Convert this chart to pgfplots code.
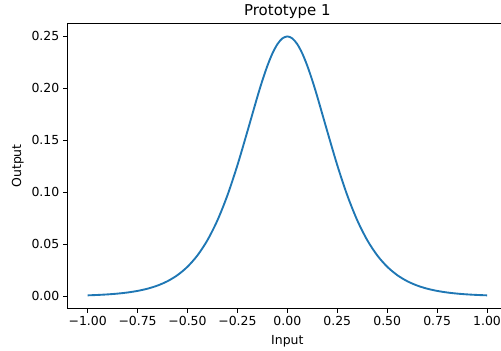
\documentclass[border=0pt]{standalone}
\usepackage{pgfplots}
\pgfplotsset{compat=1.18}
\usepackage{fontspec}
\setmainfont{DejaVu Sans}
\definecolor{mplblue}{HTML}{1F77B4}
\begin{document}
\begin{tikzpicture}
\begin{axis}[
  at={(67.7bp,42.7bp)}, anchor=south west,
  scale only axis,
  width=439.3bp, height=284.8bp,
  xmin=-1.1, xmax=1.1, ymin=-0.01155, ymax=0.26245,
  axis line style={black, line width=1bp},
  tick style={black, line width=1bp},
  tick align=outside, major tick length=4.4bp,
  xtick={-1,-0.75,-0.5,-0.25,0,0.25,0.5,0.75,1},
  xticklabels={−1.00,−0.75,−0.50,−0.25,0.00,0.25,0.50,0.75,1.00},
  ytick={0,0.05,0.1,0.15,0.2,0.25},
  yticklabels={0.00,0.05,0.10,0.15,0.20,0.25},
  xtick pos=bottom, ytick pos=left,
  ticklabel style={font=\fontsize{12.5}{14}\selectfont},
  xticklabel style={yshift=-0.5bp},
  yticklabel style={xshift=-0.5bp},
  label style={font=\fontsize{12.5}{14}\selectfont},
  xlabel={Input}, ylabel={Output},
  xlabel style={yshift=-2bp},
  ylabel style={yshift=1bp},
  title={Prototype 1},
  title style={font=\fontsize{15}{17}\selectfont, yshift=-5bp},
]
\addplot[mplblue, line width=1.875bp, smooth] coordinates {
(-1.00,0.000910) (-0.95,0.001291) (-0.90,0.001830) (-0.85,0.002592)
(-0.80,0.003671) (-0.75,0.005193) (-0.70,0.007337) (-0.65,0.010347)
(-0.60,0.014556) (-0.55,0.020402) (-0.50,0.02845) (-0.45,0.03940)
(-0.40,0.05404) (-0.35,0.07313) (-0.30,0.09720) (-0.25,0.12613)
(-0.20,0.15869) (-0.15,0.19203) (-0.125,0.207653) (-0.10,0.22171)
(-0.075,0.233535) (-0.05,0.24250) (-0.025,0.248096)
(0.00,0.25000)
(0.025,0.248096) (0.05,0.24250) (0.075,0.233535) (0.10,0.22171)
(0.125,0.207653) (0.15,0.19203) (0.20,0.15869)
(0.25,0.12613) (0.30,0.09720) (0.35,0.07313) (0.40,0.05404)
(0.45,0.03940) (0.50,0.02845) (0.55,0.020402) (0.60,0.014556)
(0.65,0.010347) (0.70,0.007337) (0.75,0.005193) (0.80,0.003671)
(0.85,0.002592) (0.90,0.001830) (0.95,0.001291) (1.00,0.000910)
};
\end{axis}
\pgfresetboundingbox
\useasboundingbox (0,0) rectangle (501bp,351bp);
\end{tikzpicture}
\end{document}
